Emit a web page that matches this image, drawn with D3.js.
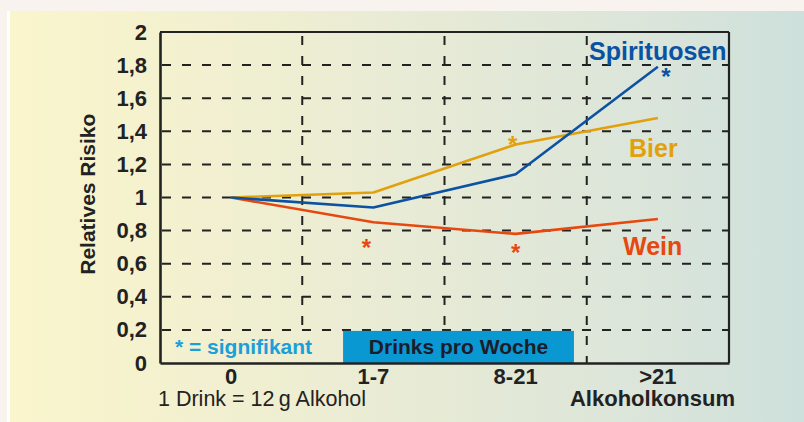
<!DOCTYPE html>
<html>
<head>
<meta charset="utf-8">
<script src="https://cdn.jsdelivr.net/npm/d3@7"></script>
<style>
  body { margin: 0; background: #f9f3ef; }
  svg { display: block; font-family: "Liberation Sans", Arial, sans-serif; }
</style>
</head>
<body>
<svg width="804" height="422"></svg>
<script>
// data
const categories = ['0', '1-7', '8-21', '>21'];
const yTicks = [0, 0.2, 0.4, 0.6, 0.8, 1, 1.2, 1.4, 1.6, 1.8, 2];
const spirituosen = [1.0, 0.94, 1.14, 1.79];
const bier = [1.0, 1.03, 1.32, 1.48];
const wein = [1.0, 0.85, 0.78, 0.87];
// significant points: [series, category]
const significant = [['Spirituosen', '>21'], ['Bier', '8-21'], ['Wein', '1-7'], ['Wein', '8-21']];

const svg = d3.select('svg');
const width = +svg.attr('width');
const height = +svg.attr('height');

const margin = { top: 32, right: 75, bottom: 59, left: 160 };
const innerWidth = width - margin.left - margin.right;
const innerHeight = height - margin.top - margin.bottom;

// background panel
const defs = svg.append('defs');
const grad = defs.append('linearGradient').attr('id', 'bg').attr('x1', 0).attr('x2', 1).attr('y1', 0).attr('y2', 0);
grad.append('stop').attr('offset', '0%').attr('stop-color', '#faf5cc');
grad.append('stop').attr('offset', '20%').attr('stop-color', '#f4f1cf');
grad.append('stop').attr('offset', '50%').attr('stop-color', '#e8ebd5');
grad.append('stop').attr('offset', '80%').attr('stop-color', '#dbe5da');
grad.append('stop').attr('offset', '100%').attr('stop-color', '#cde0dc');

svg.append('rect').attr('x', 7).attr('y', 11).attr('width', 3).attr('height', height - 11).attr('fill', '#ffffff');
svg.append('rect').attr('x', 10).attr('y', 11).attr('width', width - 10).attr('height', height - 11).attr('fill', 'url(#bg)');

const xScale = d3.scaleBand().domain(categories).range([0, innerWidth]).padding(0);
const yScale = d3.scaleLinear().domain([0, 2]).range([innerHeight, 0]);
const xMid = c => xScale(c) + xScale.bandwidth() / 2;

const g = svg.append('g').attr('transform', `translate(${margin.left},${margin.top})`);

// legend strip (box "Drinks pro Woche")
const boxX0 = xScale('1-7') + xScale.bandwidth() * 0.287;
const boxX1 = xScale('8-21') + xScale.bandwidth() * 0.91;

// horizontal dashed grid
g.append('g').selectAll('line')
  .data(yTicks.filter(d => d > 0 && d < 2))
  .enter().append('line')
  .attr('x1', 0).attr('x2', innerWidth)
  .attr('y1', d => yScale(d)).attr('y2', d => yScale(d))
  .attr('stroke', '#222').attr('stroke-width', 2)
  .attr('stroke-dasharray', '9,11').attr('stroke-dashoffset', -2);

// vertical dashed grid at band borders
g.append('g').selectAll('line')
  .data(categories.slice(1))
  .enter().append('line')
  .attr('x1', d => xScale(d)).attr('x2', d => xScale(d))
  .attr('y1', 0)
  .attr('y2', d => xScale(d) < boxX1 ? yScale(0.2) : innerHeight)
  .attr('stroke', '#222').attr('stroke-width', 2)
  .attr('stroke-dasharray', '9,11').attr('stroke-dashoffset', -4);

g.append('rect')
  .attr('x', boxX0).attr('y', yScale(0.2) + 1)
  .attr('width', boxX1 - boxX0).attr('height', innerHeight - yScale(0.2) - 1)
  .attr('fill', '#0a98d2');
g.append('text')
  .attr('x', (boxX0 + boxX1) / 2).attr('y', innerHeight - 9)
  .attr('text-anchor', 'middle').attr('font-size', 21).attr('font-weight', 'bold')
  .attr('fill', '#1c1c2a').text('Drinks pro Woche');
g.append('text')
  .attr('x', 15).attr('y', innerHeight - 9)
  .attr('font-size', 21).attr('font-weight', 'bold')
  .attr('fill', '#1a9fd9').text('* = signifikant');

// frame
g.append('line').attr('x1', 0).attr('x2', innerWidth).attr('y1', 0).attr('y2', 0)
  .attr('stroke', '#222').attr('stroke-width', 2);
g.append('line').attr('x1', innerWidth).attr('x2', innerWidth).attr('y1', 0).attr('y2', innerHeight)
  .attr('stroke', '#222').attr('stroke-width', 2.2);

// axes (lines from d3 axis, labels placed through the same scales)
const yAxisG = g.append('g').call(d3.axisLeft(yScale).tickValues(yTicks).tickSize(0).tickFormat(''));
yAxisG.select('.domain').attr('stroke', '#222').attr('stroke-width', 2.6);
g.append('g').selectAll('text')
  .data(yTicks)
  .enter().append('text')
  .attr('x', -13).attr('y', d => yScale(d) + 7.5)
  .attr('text-anchor', 'end').attr('font-size', 22).attr('font-weight', 'bold').attr('fill', '#222')
  .text(d => String(d).replace('.', ','));

const xAxisG = g.append('g').attr('transform', `translate(0,${innerHeight})`)
  .call(d3.axisBottom(xScale).tickSize(0).tickFormat(''));
xAxisG.select('.domain').attr('stroke', '#222').attr('stroke-width', 2.6);
g.append('g').selectAll('text')
  .data(categories)
  .enter().append('text')
  .attr('x', d => xMid(d)).attr('y', innerHeight + 21)
  .attr('text-anchor', 'middle').attr('font-size', 22).attr('font-weight', 'bold').attr('fill', '#222')
  .text(d => d);

// axis titles
svg.append('text')
  .attr('transform', `translate(95, ${margin.top + yScale(1.02)}) rotate(-90)`)
  .attr('text-anchor', 'middle').attr('font-size', 21).attr('font-weight', 'bold')
  .attr('fill', '#222').text('Relatives Risiko');
svg.append('text')
  .attr('x', 735).attr('y', 406)
  .attr('text-anchor', 'end').attr('font-size', 22).attr('font-weight', 'bold')
  .attr('fill', '#222').text('Alkoholkonsum');
svg.append('text')
  .attr('x', 158).attr('y', 406)
  .attr('font-size', 21.5).attr('fill', '#222').text('1 Drink = 12\u2009g Alkohol');

// series
const series = [
  { name: 'Spirituosen', values: spirituosen, color: '#0b52a3', label: [589, 60] },
  { name: 'Bier', values: bier, color: '#e2a00c', label: [629, 157] },
  { name: 'Wein', values: wein, color: '#e6480f', label: [623, 255] }
];

const line = d3.line().x((d, i) => xMid(categories[i])).y(d => yScale(d));

g.selectAll('path.series').data(series.slice().reverse())
  .enter().append('path')
  .attr('class', 'series')
  .attr('d', d => line(d.values))
  .attr('fill', 'none').attr('stroke', d => d.color).attr('stroke-width', 2.6)
  .attr('stroke-linejoin', 'round');

svg.selectAll('text.label').data(series)
  .enter().append('text')
  .attr('class', 'label')
  .attr('x', d => d.label[0]).attr('y', d => d.label[1])
  .attr('font-size', 25).attr('font-weight', 'bold')
  .attr('fill', d => d.color).text(d => d.name);

// asterisks for significant values
const starOffset = { 'Spirituosen>21': [8, 18], 'Bier8-21': [-3, 8], 'Wein1-7': [-7, 34], 'Wein8-21': [0, 27] };
g.selectAll('text.star').data(significant)
  .enter().append('text')
  .attr('class', 'star')
  .attr('x', d => xMid(d[1]) + starOffset[d[0] + d[1]][0])
  .attr('y', d => {
    const s = series.find(e => e.name === d[0]);
    return yScale(s.values[categories.indexOf(d[1])]) + starOffset[d[0] + d[1]][1];
  })
  .attr('text-anchor', 'middle').attr('font-size', 24).attr('font-weight', 'bold')
  .attr('fill', d => series.find(e => e.name === d[0]).color).text('*');
</script>
</body>
</html>
